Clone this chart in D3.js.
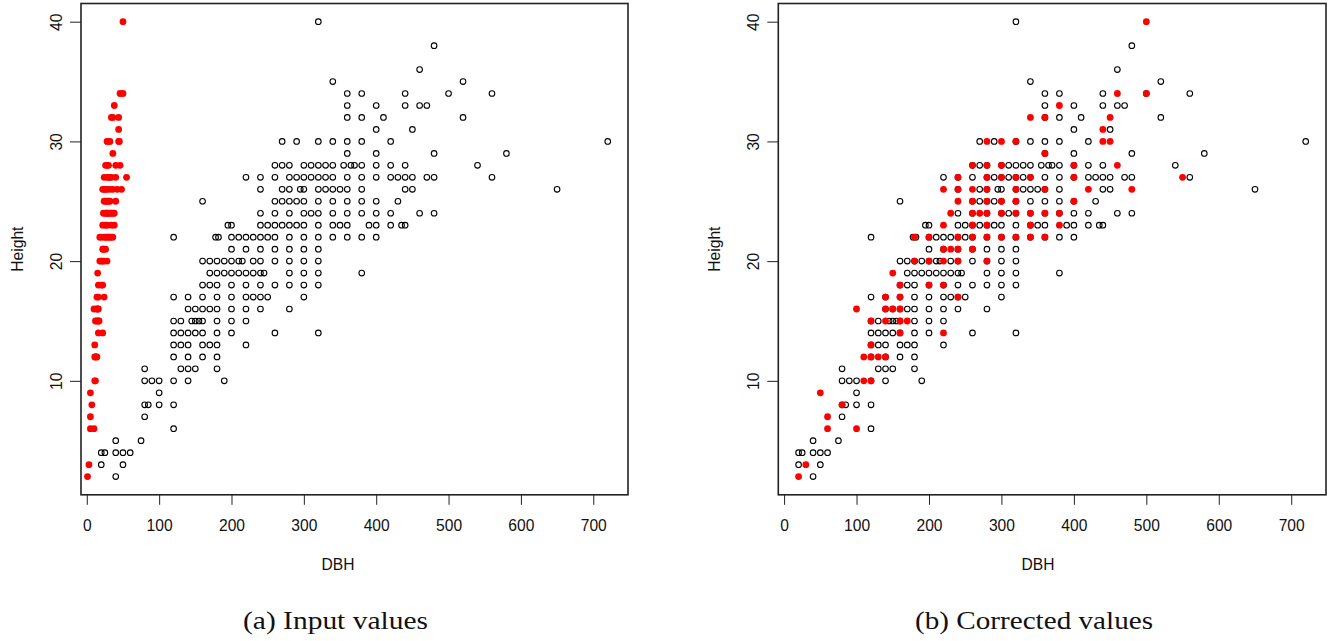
<!DOCTYPE html>
<html>
<head>
<meta charset="utf-8">
<script src="https://cdn.jsdelivr.net/npm/d3@7"></script>
<style>
    body { margin: 0; background: #fff; }
    svg text { font-family: "Liberation Sans", Arial, Helvetica, sans-serif; fill: #111; }
    .caption { font-family: "Liberation Serif", "Times New Roman", serif; }
</style>
</head>
<body>
<svg id="chart" width="1328" height="641"></svg>
<script>
    // each row: [height, [DBH values at that height]]
    const observedRows = [
        [40, [320]],
        [38, [480]],
        [36, [460]],
        [35, [340, 520]],
        [34, [360, 380, 440, 500, 560]],
        [33, [360, 400, 440, 460, 470]],
        [32, [360, 380, 410, 520]],
        [31, [400, 450]],
        [30, [270, 290, 320, 340, 360, 380, 420, 720]],
        [29, [360, 400, 480, 580]],
        [28, [260, 270, 280, 300, 310, 320, 330, 340, 355, 365, 370, 380, 400, 420, 440, 540]],
        [27, [220, 240, 260, 280, 290, 300, 310, 320, 330, 340, 360, 380, 400, 420, 430, 440, 450, 470, 480, 560]],
        [26, [240, 270, 280, 295, 300, 320, 330, 340, 350, 360, 380, 440, 450, 650]],
        [25, [160, 260, 270, 280, 290, 300, 320, 340, 360, 380, 400, 430]],
        [24, [240, 260, 280, 300, 310, 320, 340, 360, 380, 400, 420, 460, 480]],
        [23, [195, 200, 240, 250, 260, 270, 280, 290, 300, 320, 340, 350, 360, 390, 400, 420, 435, 440]],
        [22, [120, 178, 182, 200, 210, 220, 230, 240, 250, 260, 280, 300, 320, 340, 360, 380, 400]],
        [21, [200, 220, 240, 260, 280, 300, 320]],
        [20, [160, 170, 180, 190, 200, 210, 215, 230, 240, 260, 280, 300, 320]],
        [19, [170, 180, 190, 200, 210, 220, 230, 240, 245, 280, 300, 320, 380]],
        [18, [160, 170, 180, 200, 220, 240, 260, 280, 300, 320]],
        [17, [120, 140, 160, 180, 200, 220, 230, 240, 250, 300]],
        [16, [140, 150, 160, 170, 180, 200, 220, 240, 280]],
        [15, [120, 130, 145, 150, 155, 160, 180, 200, 220]],
        [14, [120, 130, 140, 150, 160, 180, 200, 260, 320]],
        [13, [120, 130, 140, 160, 170, 180, 220]],
        [12, [120, 140, 160, 180]],
        [11, [80, 130, 140, 150, 180]],
        [10, [80, 90, 100, 120, 140, 190]],
        [9, [100]],
        [8, [80, 85, 100, 120]],
        [7, [80]],
        [6, [120]],
        [5, [40, 75]],
        [4, [20, 25, 40, 50, 60]],
        [3, [20, 50]],
        [2, [40]]
    ];

    // red points, left panel (as entered)
    const inputRows = [
        [40, [50]],
        [34, [46, 50]],
        [33, [38]],
        [32, [34, 36, 44]],
        [31, [44]],
        [30, [28, 30, 32, 44, 45]],
        [29, [36]],
        [28, [26, 28, 30, 40, 46]],
        [27, [24, 28, 30, 32, 34, 40, 55]],
        [26, [22, 24, 26, 28, 32, 36, 42, 48]],
        [25, [24, 26, 28, 30, 32, 40]],
        [24, [23, 26, 27, 28, 30, 32, 34, 36, 38]],
        [23, [22, 26, 28, 34, 38]],
        [22, [18, 20, 24, 26, 28, 30, 32, 34, 36]],
        [21, [22, 23, 24, 26]],
        [20, [18, 20, 22, 24, 28]],
        [19, [15]],
        [18, [16, 20, 22]],
        [17, [14, 16, 24]],
        [16, [10, 14, 15, 16]],
        [15, [12, 14, 16, 17]],
        [14, [16, 22]],
        [13, [11]],
        [12, [11, 12, 13, 14]],
        [10, [11, 12]],
        [9, [5]],
        [8, [7]],
        [7, [5]],
        [6, [5, 10]],
        [3, [3]],
        [2, [1]]
    ];

    // red points, right panel (corrected)
    const correctedRows = [
        [40, [500]],
        [34, [460, 500]],
        [33, [380]],
        [32, [340, 360, 450]],
        [31, [440]],
        [30, [280, 300, 320, 440, 450]],
        [29, [360]],
        [28, [260, 280, 300, 400, 460]],
        [27, [240, 280, 300, 320, 340, 400, 550]],
        [26, [220, 240, 260, 280, 320, 360, 420, 480]],
        [25, [240, 260, 280, 300, 320, 400]],
        [24, [230, 260, 270, 280, 300, 320, 340, 360, 380]],
        [23, [220, 260, 280, 340, 380]],
        [22, [180, 200, 240, 260, 280, 300, 320, 340, 360]],
        [21, [220, 230, 240, 260]],
        [20, [180, 200, 220, 240, 280]],
        [19, [150]],
        [18, [160, 200, 220]],
        [17, [140, 160, 240]],
        [16, [100, 140, 150, 160]],
        [15, [120, 140, 160, 170]],
        [14, [160, 220]],
        [13, [120]],
        [12, [110, 120, 130, 140]],
        [10, [110, 120]],
        [9, [50]],
        [8, [80]],
        [7, [60]],
        [6, [60, 100]],
        [3, [30]],
        [2, [20]]
    ];

    const xTicks = [0, 100, 200, 300, 400, 500, 600, 700];
    const yTicks = [10, 20, 30, 40];
    const captions = ["(a) Input values", "(b) Corrected values"];

    const svg = d3.select("#chart");

    svg.append("rect")
        .attr("width", 1328)
        .attr("height", 641)
        .attr("fill", "#fff");

    const toPoints = rows => rows.flatMap(([h, list]) => list.map(d => ({ dbh: d, height: h })));

    function drawPanel(option) {
        const x = d3.scaleLinear().domain([-8, 748]).range([option.left, option.right]);
        const y = d3.scaleLinear().domain([0.48, 41.52]).range([option.bottom, option.top]);

        const g = svg.append("g");

        // x axis
        const xAxis = g.append("g")
            .attr("transform", `translate(0,${option.bottom})`)
            .call(d3.axisBottom(x).tickValues(xTicks).tickSize(10).tickPadding(14).tickSizeOuter(0));
        xAxis.select(".domain").remove();
        xAxis.selectAll("line").attr("stroke", "#222");
        xAxis.selectAll("text")
            .attr("font-size", 17)
            .attr("fill", "#111")
            .attr("transform", "scale(0.92,1)");

        // y axis, labels parallel to the axis like R
        const yAxis = g.append("g")
            .attr("transform", `translate(${option.left},0)`)
            .call(d3.axisLeft(y).tickValues(yTicks).tickSize(11).tickSizeOuter(0));
        yAxis.select(".domain").remove();
        yAxis.selectAll("line").attr("stroke", "#222");
        yAxis.selectAll("text")
            .attr("x", null)
            .attr("dy", null)
            .attr("font-size", 17)
            .attr("fill", "#111")
            .attr("text-anchor", "middle")
            .attr("transform", "translate(-19.5,0) rotate(-90) scale(0.92,1)");

        // open black circles
        g.append("g")
            .selectAll("circle")
            .data(toPoints(observedRows))
            .join("circle")
            .attr("cx", d => x(d.dbh))
            .attr("cy", d => y(d.height))
            .attr("r", 2.8)
            .attr("fill", "none")
            .attr("stroke", "#000")
            .attr("stroke-width", 1.1);

        // filled red points on top
        g.append("g")
            .selectAll("circle")
            .data(toPoints(option.red))
            .join("circle")
            .attr("cx", d => x(d.dbh))
            .attr("cy", d => y(d.height))
            .attr("r", 3.4)
            .attr("fill", "#ff0000");

        g.append("rect")
            .attr("x", option.left)
            .attr("y", option.top)
            .attr("width", option.right - option.left)
            .attr("height", option.bottom - option.top)
            .attr("fill", "none")
            .attr("stroke", "#222")
            .attr("stroke-width", 1.6);

        g.append("text")
            .attr("x", option.labelX)
            .attr("y", 570.5)
            .attr("text-anchor", "middle")
            .attr("font-size", 17)
            .attr("transform", `translate(${option.labelX},0) scale(0.92,1) translate(${-option.labelX},0)`)
            .text("DBH");

        g.append("text")
            .attr("transform", `translate(${option.left - 58},${(option.top + option.bottom) / 2}) rotate(-90) scale(0.92,1)`)
            .attr("text-anchor", "middle")
            .attr("font-size", 17)
            .text("Height");

        g.append("text")
            .attr("class", "caption")
            .attr("x", option.captionX)
            .attr("y", 628.5)
            .attr("font-size", 26)
            .attr("fill", "#000")
            .attr("textLength", option.captionWidth)
            .attr("lengthAdjust", "spacingAndGlyphs")
            .text(option.caption);
    }

    drawPanel({ left: 81, right: 628, top: 3.5, bottom: 494.8, red: inputRows,
        labelX: 338, caption: captions[0], captionX: 243, captionWidth: 185 });
    drawPanel({ left: 778.3, right: 1326, top: 3.5, bottom: 494.8, red: correctedRows,
        labelX: 1038, caption: captions[1], captionX: 915, captionWidth: 238 });
</script>
</body>
</html>
